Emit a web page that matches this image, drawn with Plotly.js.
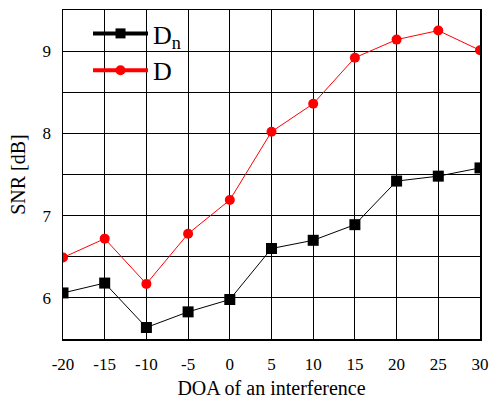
<!DOCTYPE html>
<html><head><meta charset="utf-8">
<script src="https://cdn.plot.ly/plotly-3.0.1.min.js"></script>
<style>body{margin:0;background:#fff}#chart{width:492px;height:399px}</style>
</head><body><div id="chart"></div>
<script>
const doa = [-20, -15, -10, -5, 0, 5, 10, 15, 20, 25, 30];
const snrDn = [6.06, 6.18, 5.64, 5.83, 5.98, 6.60, 6.70, 6.89, 7.42, 7.48, 7.58];
const snrD = [6.49, 6.72, 6.17, 6.78, 7.19, 8.02, 8.36, 8.92, 9.14, 9.25, 9.01];
const xTicks = [-20, -15, -10, -5, 0, 5, 10, 15, 20, 25, 30];
const yTicks = [6, 7, 8, 9];

const font = 'Liberation Serif';
const traces = [
  {x: doa, y: snrDn, mode: 'lines+markers', showlegend: false,
   line: {color: 'black', width: 1}, marker: {symbol: 'square', size: 11, color: 'black'}},
  {x: doa, y: snrD, mode: 'lines+markers', showlegend: false,
   line: {color: 'red', width: 1}, marker: {symbol: 'circle', size: 10, color: 'red'}},
  {x: [null], y: [null], mode: 'lines+markers', name: 'D<sub>n</sub>',
   line: {color: 'black', width: 4}, marker: {symbol: 'square', size: 10, color: 'black'}},
  {x: [null], y: [null], mode: 'lines+markers', name: 'D',
   line: {color: 'red', width: 4}, marker: {symbol: 'circle', size: 10, color: 'red'}}
];
const layout = {
  width: 492, height: 399,
  margin: {l: 63, r: 12, t: 10, b: 60},
  paper_bgcolor: 'white', plot_bgcolor: 'white',
  font: {family: font, color: 'black', size: 16},
  xaxis: {
    range: [-20, 30], tickvals: xTicks, ticktext: xTicks.map(String),
    showgrid: true, gridcolor: 'black', gridwidth: 1,
    showline: true, mirror: true, linecolor: 'black', linewidth: 1.5,
    ticks: '', ticklabelstandoff: 9, zeroline: false,
    tickfont: {family: font, size: 17},
    title: {text: 'DOA of an interference', font: {family: font, size: 20}, standoff: 8}
  },
  yaxis: {
    range: [5.5, 9.5], tickvals: yTicks, ticktext: yTicks.map(String),
    showgrid: true, gridcolor: 'black', gridwidth: 1,
    minor: {dtick: 0.5, tick0: 5.5, showgrid: true, gridcolor: 'black', gridwidth: 1},
    showline: true, mirror: true, linecolor: 'black', linewidth: 1.5,
    ticks: '', ticklabelstandoff: 7, zeroline: false,
    tickfont: {family: font, size: 17},
    title: {text: 'SNR [dB]', font: {family: font, size: 20}, standoff: 11}
  },
  legend: {
    x: 0.06, y: 1.0, xanchor: 'left', yanchor: 'top',
    bgcolor: 'rgba(0,0,0,0)', itemwidth: 55,
    font: {family: font, size: 26, color: 'black'},
    tracegroupgap: 0
  },
  showlegend: true
};
Plotly.newPlot('chart', traces, layout, {displayModeBar: false, staticPlot: true});
</script></body></html>
